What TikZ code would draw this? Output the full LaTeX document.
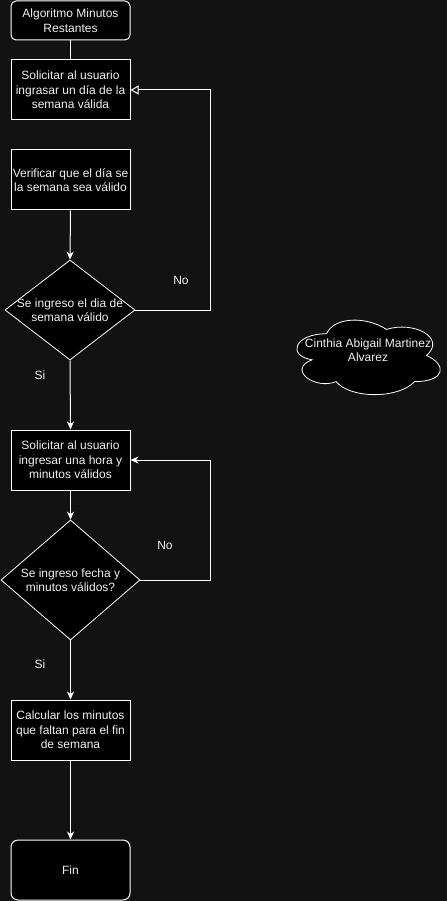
\documentclass[tikz,border=0pt]{standalone}
\usepackage{fontspec}
\setmainfont{Liberation Sans}
\usetikzlibrary{shapes.geometric,arrows.meta}
\definecolor{bg}{HTML}{121212}
\definecolor{txt}{HTML}{F0F0F0}
\begin{document}
\begin{tikzpicture}[x=1pt,y=-1pt,
  every node/.style={font=\fontsize{12}{14.5}\selectfont, text=txt, align=center},
  box/.style={draw=white, fill=black, line width=1pt, minimum width=119pt, minimum height=60pt, inner sep=1pt},
  term/.style={box, rounded corners=7pt},
  dec/.style={draw=white, fill=black, line width=0.8pt, diamond, inner sep=0pt},
  conn/.style={draw=white, line width=1pt, -{Stealth[length=8pt,width=7pt,inset=2.5pt]}},
  plain/.style={draw=white, line width=1pt},
  openarr/.style={draw=white, line width=1pt, -{Triangle[open,length=8pt,width=9pt]}},
  cloudline/.style={draw=white, fill=black, line width=0.8pt},
  lbl/.style={text=txt}
]
\fill[bg] (0,0) rectangle (447,901);
\useasboundingbox (0,0) rectangle (447,901);

\node[term, minimum height=39pt, rounded corners=5pt] (start) at (70.5,20.5) {Algoritmo Minutos\\Restantes};
\node[box] (sol1) at (70.5,90) {Solicitar al usuario\\ingrasar un día de la\\semana válida};
\node[box] (ver) at (70.5,180) {Verificar que el día se\\la semana sea válido};
\node[dec, minimum width=130pt, minimum height=100pt] (d1) at (70,310) {};
\node at (70,310) {Se ingreso el dia de\\semana válido};
\node[box] (sol2) at (70.5,460) {Solicitar al usuario\\ingresar una hora y\\minutos válidos};
\node[dec, minimum width=139pt, minimum height=120pt] (d2) at (70.5,580) {};
\node at (70.5,580) {Se ingreso fecha y\\minutos válidos?};
\node[box] (calc) at (70.5,730) {Calcular los minutos\\que faltan para el fin\\de semana};
\node[term, rounded corners=7pt] (fin) at (70.5,870) {Fin};

\begin{scope}[xshift=286.5pt, yshift=-312pt, x=160pt, y=-87pt]
\draw[cloudline] (0.25,0.25) .. controls (0.05,0.25) and (0,0.5) .. (0.16,0.55)
  .. controls (0,0.66) and (0.18,0.9) .. (0.31,0.8)
  .. controls (0.4,1) and (0.7,1) .. (0.8,0.8)
  .. controls (1,0.8) and (1,0.6) .. (0.875,0.5)
  .. controls (1,0.3) and (0.8,0.1) .. (0.625,0.2)
  .. controls (0.5,0.05) and (0.3,0.05) .. (0.25,0.25) -- cycle;
\end{scope}
\node (cl) at (368,350) {Cinthia Abigail Martinez\\Alvarez};

\draw[plain] (start.south) -- (sol1.north);
\draw[conn] (ver.south) -- (d1.north);
\draw[conn] (d1.south) -- (sol2.north);
\draw[conn] (sol2.south) -- (d2.north);
\draw[conn] (d2.south) -- (calc.north);
\draw[conn] (calc.south) -- (fin.north);

\coordinate (r1a) at (210,310);
\coordinate (r1b) at (210,90);
\draw[openarr] (d1.east) -- (r1a) -- (r1b) -- (sol1.east);
\coordinate (r2a) at (210,580);
\coordinate (r2b) at (210,460);
\draw[conn] (d2.east) -- (r2a) -- (r2b) -- (sol2.east);

\node[lbl] (no1) at (181,280) {No};
\node[lbl] (si1) at (40,375) {Si};
\node[lbl] (no2) at (165,545) {No};
\node[lbl] (si2) at (40,664) {Si};
\end{tikzpicture}
\end{document}
